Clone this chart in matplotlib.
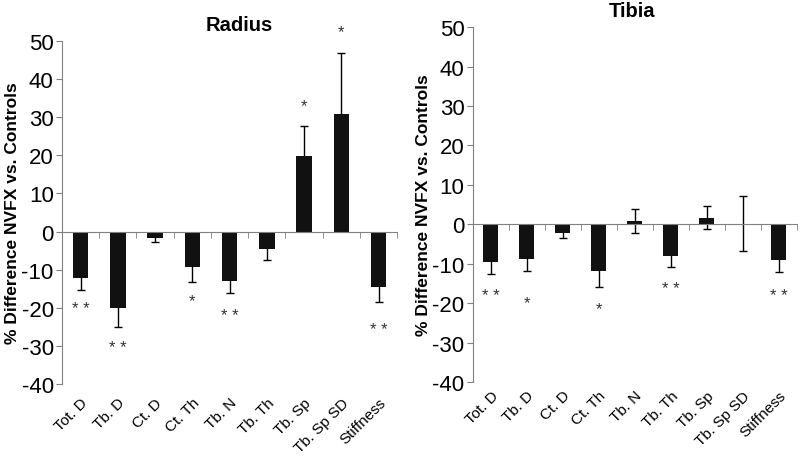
import matplotlib
matplotlib.use("Agg")
import matplotlib.pyplot as plt
import numpy as np

plt.rcParams['font.family'] = ['Liberation Sans', 'DejaVu Sans']
NARROW = ['Liberation Sans Narrow', 'Liberation Sans']

categories = ['Tot. D', 'Tb. D', 'Ct. D', 'Ct. Th', 'Tb. N', 'Tb. Th', 'Tb. Sp', 'Tb. Sp SD', 'Stiffness']

radius_vals = [-12.3, -20.0, -1.6, -9.3, -13.0, -4.6, 19.8, 30.7, -14.6]
radius_err = [3.1, 5.0, 1.1, 4.0, 3.1, 3.0, 8.0, 16.1, 3.9]
radius_stars = ['**', '**', '', '*', '**', '', '*', '*', '**']
radius_star_y = [-20.3, -30.5, 0, -18.2, -22.0, 0, 33.0, 52.3, -25.6]

tibia_vals = [-9.6, -8.8, -2.3, -11.8, 0.8, -7.9, 1.7, 0.2, -9.0]
tibia_err = [3.0, 3.1, 1.1, 4.0, 3.0, 2.9, 3.0, 7.0, 3.0]
tibia_stars = ['**', '*', '', '*', '', '**', '', '', '**']
tibia_star_y = [-18.1, -19.8, 0, -21.4, 0, -16.3, 0, 0, -18.1]


def draw_panel(ax, title, vals, errs, stars, star_y, title_x):
    x = np.arange(len(categories))
    ax.bar(x, vals, width=0.42, color='#111111', zorder=2)
    ax.errorbar(x, vals, yerr=errs, fmt='none', ecolor='black', elinewidth=1.0,
                capsize=3, capthick=1.0, zorder=1)
    for xi, s, sy in zip(x, stars, star_y):
        if s:
            ax.text(xi, sy, ' '.join(s), ha='center', va='center', fontsize=12, color='#333333')

    ax.set_xlim(-0.5, len(categories) - 0.5)
    ax.set_ylim(-40, 50)
    ax.set_yticks(range(-40, 51, 10))
    ax.set_yticklabels([str(v) for v in range(-40, 51, 10)], family=NARROW, fontsize=16)
    ax.tick_params(axis='y', length=4, color='#808080', pad=2)

    ax.spines['top'].set_visible(False)
    ax.spines['right'].set_visible(False)
    ax.spines['left'].set_color('#808080')
    ax.spines['bottom'].set_color('#808080')
    ax.spines['bottom'].set_position(('data', 0))

    ax.set_xticks(x)
    ax.set_xticklabels(categories, rotation=45, ha='right', rotation_mode='anchor',
                       family=NARROW, fontsize=11)
    ax.set_xticks(np.arange(len(categories) + 1) - 0.5, minor=True)
    ax.tick_params(axis='x', which='major', length=0, pad=118)
    ax.tick_params(axis='x', which='minor', length=4, color='#808080', direction='out')

    ax.set_ylabel('% Difference NVFX vs. Controls', fontsize=12.5, fontweight='bold', labelpad=1)
    ax.set_title(title, fontsize=14.5, fontweight='bold', x=title_x, pad=8)


fig = plt.figure(figsize=(8, 4.6), dpi=100)
ax1 = fig.add_axes([0.0775, 0.163, 0.419, 0.746])
ax2 = fig.add_axes([0.591, 0.167, 0.405, 0.772])

draw_panel(ax1, 'Radius', radius_vals, radius_err, radius_stars, radius_star_y, 0.53)
draw_panel(ax2, 'Tibia', tibia_vals, tibia_err, tibia_stars, tibia_star_y, 0.49)

fig.savefig('out.png', dpi=100)
